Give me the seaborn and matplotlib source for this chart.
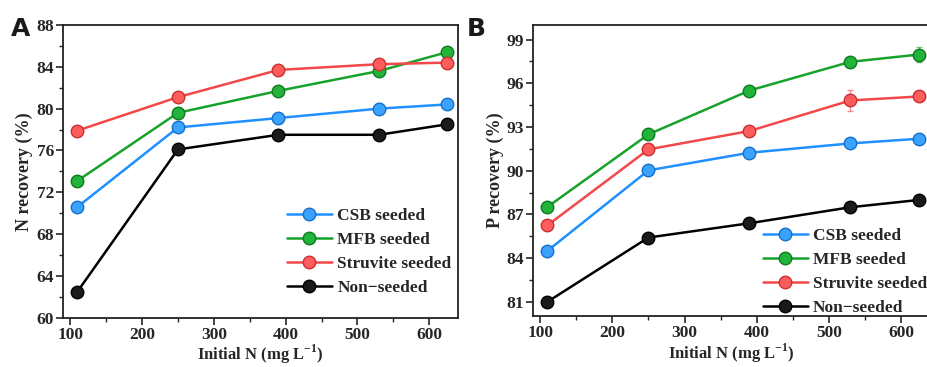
import matplotlib
matplotlib.use("Agg")
import matplotlib.pyplot as plt
from matplotlib.ticker import MultipleLocator
import seaborn as sns
import pandas as pd

# ---- data ----
initial_n = [110, 250, 390, 530, 625]
series_names = ["CSB seeded", "MFB seeded", "Struvite seeded", "Non\u2212seeded"]

n_csb = [70.6, 78.2, 79.1, 80.0, 80.4]
n_mfb = [73.1, 79.6, 81.7, 83.6, 85.4]
n_struvite = [77.9, 81.1, 83.7, 84.25, 84.4]
n_non = [62.5, 76.1, 77.5, 77.5, 78.5]

p_csb = [84.5, 90.02, 91.23, 91.87, 92.19]
p_mfb = [87.51, 92.49, 95.5, 97.47, 97.97]
p_struvite = [86.25, 91.46, 92.72, 94.82, 95.09]
p_non = [81.0, 85.41, 86.39, 87.49, 87.99]

n_err_csb = [0.2, 0.2, 0.2, 0.5, 0.2]
p_err_struvite = [0.2, 0.2, 0.2, 0.7, 0.2]
p_err_mfb = [0.2, 0.2, 0.2, 0.2, 0.5]

line_colors = ["#1e90ff", "#17a32b", "#f2484a", "#000000"]
face_colors = ["#3aa2ff", "#22b33a", "#ff5c5c", "#1a1a1a"]
edge_colors = ["#1670c8", "#0f7a20", "#c83032", "#000000"]

sns.set_style("ticks")
plt.rcParams["font.family"] = ["Liberation Serif", "DejaVu Serif"]
plt.rcParams["font.weight"] = "bold"
plt.rcParams["axes.labelweight"] = "bold"
plt.rcParams["mathtext.fontset"] = "custom"
plt.rcParams["mathtext.rm"] = "Liberation Serif:bold"
plt.rcParams["mathtext.bf"] = "Liberation Serif:bold"

fig = plt.figure(figsize=(9.27, 3.67), dpi=100)
axA = fig.add_axes([0.068, 0.134, 0.426, 0.798])
axB = fig.add_axes([0.575, 0.138, 0.428, 0.794])


def draw(ax, values, errs):
    for i, name in enumerate(series_names):
        df = pd.DataFrame({"x": initial_n, "y": values[i]})
        if errs[i] is not None:
            ax.errorbar(initial_n, values[i], yerr=errs[i], fmt="none",
                        ecolor=line_colors[i], elinewidth=1, capsize=2, alpha=0.6, zorder=1)
        sns.lineplot(data=df, x="x", y="y", ax=ax, color=line_colors[i],
                     linewidth=1.8, marker="o", markersize=9,
                     markerfacecolor=face_colors[i], markeredgecolor=edge_colors[i],
                     markeredgewidth=1.0, label=name, zorder=3)
    for s in ax.spines.values():
        s.set_linewidth(1.3)
        s.set_color("#222222")
    ax.tick_params(which="major", direction="out", length=5, width=1.2,
                   labelsize=12.5, pad=1.5)
    ax.tick_params(which="minor", direction="out", length=3, width=1.0)
    ax.xaxis.set_major_locator(MultipleLocator(100))
    ax.xaxis.set_minor_locator(MultipleLocator(50))
    ax.set_xlim(90, 640)
    for lab in ax.get_xticklabels() + ax.get_yticklabels():
        lab.set_fontweight("bold")
    ax.set_xlabel(r"Initial N (mg L$^{\mathregular{-1}}$)", fontsize=12,
                  fontweight="bold", labelpad=0)


draw(axA, [n_csb, n_mfb, n_struvite, n_non], [n_err_csb, None, None, None])
axA.set_ylim(60, 88)
axA.yaxis.set_major_locator(MultipleLocator(4))
axA.yaxis.set_minor_locator(MultipleLocator(2))
axA.set_ylabel("N recovery (%)", fontsize=13, fontweight="bold", labelpad=2)
for lab in axA.get_yticklabels():
    lab.set_fontweight("bold")
legA = axA.legend(loc="lower right", bbox_to_anchor=(1.01, 0.04), frameon=False,
                  fontsize=12.5, handlelength=2.6, handletextpad=0.3,
                  labelspacing=0.45, borderaxespad=0.2)

draw(axB, [p_csb, p_mfb, p_struvite, p_non], [None, p_err_mfb, p_err_struvite, None])
axB.set_ylim(80, 100)
axB.yaxis.set_minor_locator(MultipleLocator(1.5))
axB.set_yticks([81, 84, 87, 90, 93, 96, 99])
axB.set_ylabel("P recovery (%)", fontsize=13, fontweight="bold", labelpad=2)
for lab in axB.get_yticklabels():
    lab.set_fontweight("bold")
legB = axB.legend(loc="lower right", bbox_to_anchor=(1.02, -0.035), frameon=False,
                  fontsize=12.5, handlelength=2.6, handletextpad=0.3,
                  labelspacing=0.45, borderaxespad=0.2)

for leg in (legA, legB):
    for t in leg.get_texts():
        t.set_fontweight("bold")

fig.text(0.012, 0.922, "A", fontsize=18, fontweight="bold", family="DejaVu Sans",
         va="center", ha="left", color="#1a1a1a")
fig.text(0.504, 0.922, "B", fontsize=18, fontweight="bold", family="DejaVu Sans",
         va="center", ha="left", color="#1a1a1a")

fig.savefig("out.png", dpi=100)
